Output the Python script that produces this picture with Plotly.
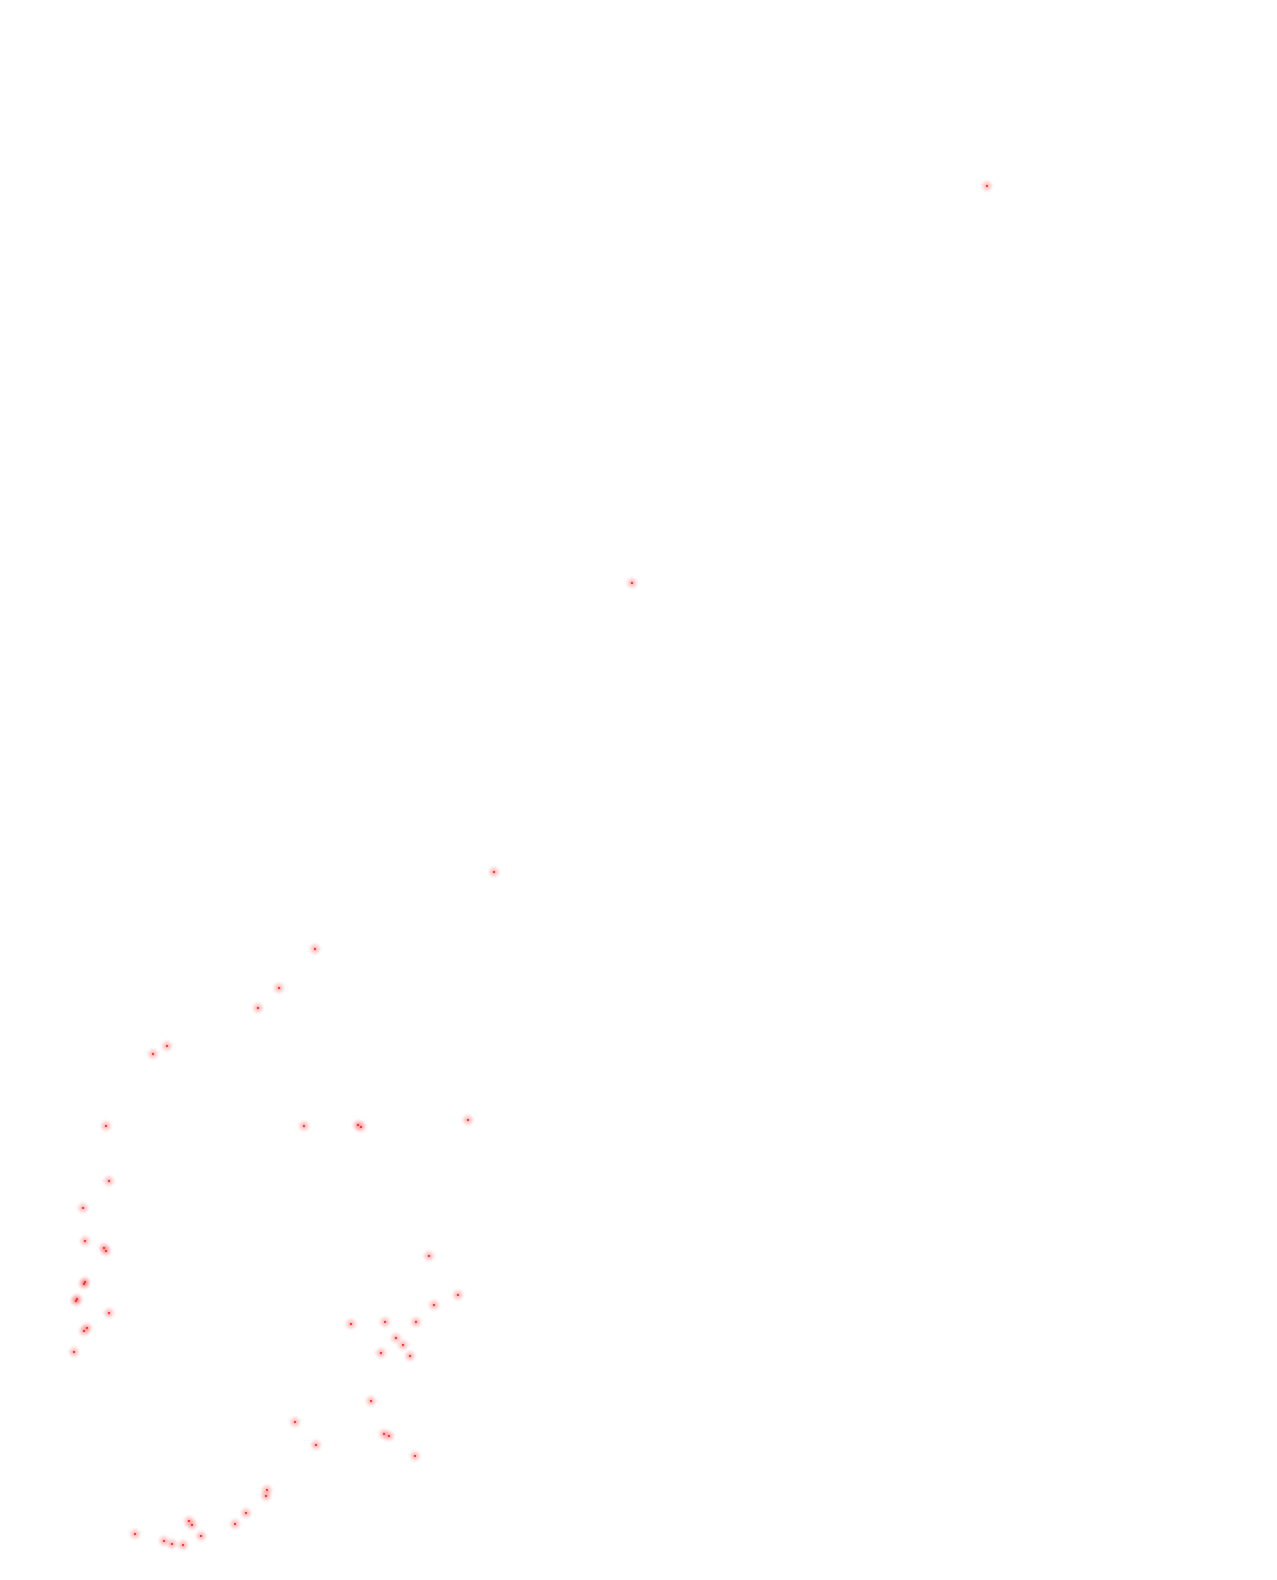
import plotly.graph_objects as go

# point positions (x, y) in chart units
x_vals = [987, 632, 494, 315, 279, 258, 167, 153, 106, 304, 358, 361, 468,
          109, 83, 85, 104, 106, 85, 84, 77, 76, 109, 87, 84, 74,
          429, 458, 434, 351, 385, 416, 396, 403, 381, 410, 371, 384, 389, 415,
          295, 316, 267, 266, 246, 235, 189, 192, 201, 135, 164, 172, 183]
y_vals = [186, 583, 872, 949, 988, 1008, 1046, 1054, 1126, 1126, 1125, 1127, 1120,
          1181, 1208, 1241, 1248, 1251, 1282, 1284, 1299, 1301, 1313, 1328, 1331, 1352,
          1256, 1295, 1305, 1324, 1322, 1322, 1338, 1345, 1353, 1356, 1401, 1434, 1436, 1456,
          1422, 1445, 1490, 1496, 1513, 1524, 1521, 1525, 1536, 1534, 1541, 1544, 1545]

fig = go.Figure()
for size, col in [(13, "rgba(255,60,60,0.06)"), (10, "rgba(255,60,60,0.08)"),
                  (7, "rgba(255,40,40,0.10)"), (4, "rgba(255,30,30,0.12)"),
                  (1.8, "rgba(255,0,0,1)")]:
    fig.add_trace(go.Scatter(x=x_vals, y=y_vals, mode="markers",
                             marker=dict(size=size, color=col, line=dict(width=0)),
                             hoverinfo="skip", showlegend=False))

fig.update_layout(width=1277, height=1580, margin=dict(l=0, r=0, t=0, b=0),
                  paper_bgcolor="white", plot_bgcolor="white",
                  xaxis=dict(range=[8, 1285], visible=False),
                  yaxis=dict(range=[1588, 8], visible=False))
fig.write_html("out.html")
